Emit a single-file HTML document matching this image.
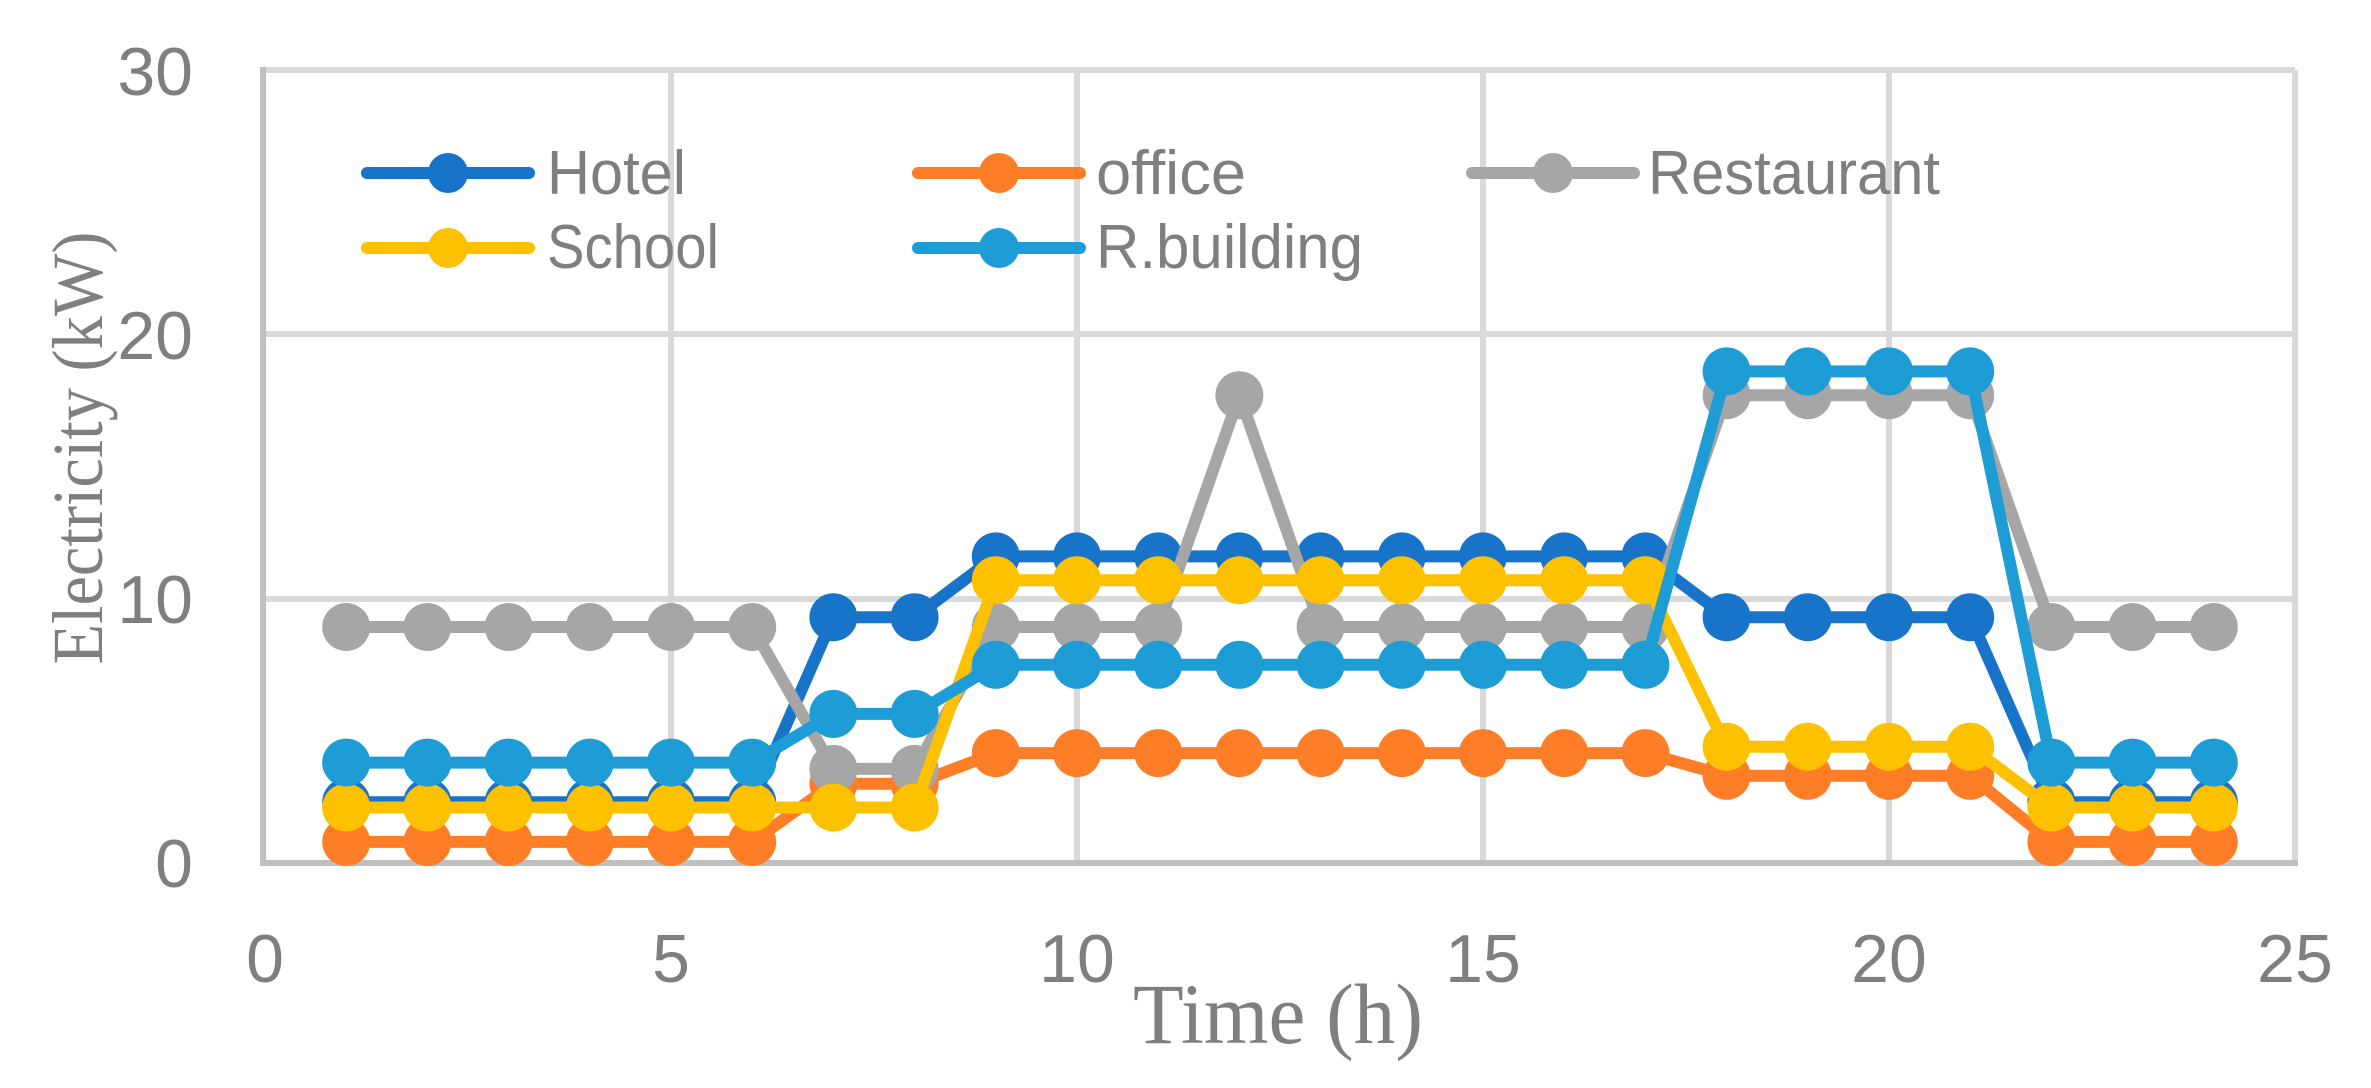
<!DOCTYPE html>
<html><head><meta charset="utf-8"><style>html,body{margin:0;padding:0;background:#fff}svg{display:block}</style></head>
<body>
<svg id="c" width="2371" height="1088" xmlns="http://www.w3.org/2000/svg">
<rect width="2371" height="1088" fill="#fff"/>
<g stroke="#d9d9d9" stroke-width="6">
<line x1="265" y1="70" x2="2295" y2="70"/>
<line x1="265" y1="334" x2="2295" y2="334"/>
<line x1="265" y1="599" x2="2295" y2="599"/>
<line x1="671" y1="70" x2="671" y2="863"/>
<line x1="1077" y1="70" x2="1077" y2="863"/>
<line x1="1483" y1="70" x2="1483" y2="863"/>
<line x1="1889" y1="70" x2="1889" y2="863"/>
<line x1="2295" y1="70" x2="2295" y2="863"/>
</g>
<g stroke="#bfbfbf" stroke-width="6">
<line x1="263" y1="67" x2="263" y2="866"/>
<line x1="260" y1="863" x2="2298" y2="863"/>
</g>
<g font-family="'Liberation Sans', sans-serif" font-size="68" fill="#7f7f7f" text-anchor="end">
<text x="193" y="95">30</text><text x="193" y="359">20</text><text x="193" y="623">10</text><text x="193" y="887">0</text>
</g>
<g font-family="'Liberation Sans', sans-serif" font-size="68" fill="#7f7f7f" text-anchor="middle">
<text x="265" y="982">0</text><text x="671" y="982">5</text><text x="1077" y="982">10</text><text x="1483" y="982">15</text><text x="1889" y="982">20</text><text x="2295" y="982">25</text>
</g>
<text x="1278" y="1043" font-family="'Liberation Serif', serif" font-size="86" fill="#7f7f7f" text-anchor="middle" textLength="290" lengthAdjust="spacingAndGlyphs">Time (h)</text>
<text transform="translate(102,448) rotate(-90)" font-family="'Liberation Serif', serif" font-size="72" fill="#7f7f7f" text-anchor="middle" textLength="433" lengthAdjust="spacingAndGlyphs">Electricity (kW)</text>
<g id="series"></g>
<g font-family="'Liberation Sans', sans-serif" font-size="62" fill="#7f7f7f">
<text x="547" y="194" textLength="139" lengthAdjust="spacingAndGlyphs">Hotel</text><text x="1096" y="194" textLength="150" lengthAdjust="spacingAndGlyphs">office</text><text x="1648" y="194" textLength="292" lengthAdjust="spacingAndGlyphs">Restaurant</text>
<text x="547" y="268" textLength="172" lengthAdjust="spacingAndGlyphs">School</text><text x="1096" y="268" textLength="267" lengthAdjust="spacingAndGlyphs">R.building</text>
</g>
<g stroke-width="12" stroke-linecap="round">
<line x1="367" y1="173" x2="529" y2="173" stroke="#1874c8"/><circle cx="448" cy="173" r="20" fill="#1874c8"/>
<line x1="918" y1="173" x2="1080" y2="173" stroke="#fd7e26"/><circle cx="999" cy="173" r="20" fill="#fd7e26"/>
<line x1="1472" y1="173" x2="1634" y2="173" stroke="#a6a6a6"/><circle cx="1553" cy="173" r="20" fill="#a6a6a6"/>
<line x1="367" y1="248" x2="529" y2="248" stroke="#fdc100"/><circle cx="448" cy="248" r="20" fill="#fdc100"/>
<line x1="918" y1="248" x2="1080" y2="248" stroke="#1e9cd6"/><circle cx="999" cy="248" r="20" fill="#1e9cd6"/>
</g>
</svg>
<script>
(function(){
var S=[
["#1874c8",[2.3,2.3,2.3,2.3,2.3,2.3,9.3,9.3,11.6,11.6,11.6,11.6,11.6,11.6,11.6,11.6,11.6,9.3,9.3,9.3,9.3,2.3,2.3,2.3]],
["#fd7e26",[0.8,0.8,0.8,0.8,0.8,0.8,3.0,3.0,4.16,4.16,4.16,4.16,4.16,4.16,4.16,4.16,4.16,3.3,3.3,3.3,3.3,0.8,0.8,0.8]],
["#a6a6a6",[8.93,8.93,8.93,8.93,8.93,8.93,3.56,3.56,8.93,8.93,8.93,17.7,8.93,8.93,8.93,8.93,8.93,17.7,17.7,17.7,17.7,8.93,8.93,8.93]],
["#fdc100",[2.1,2.1,2.1,2.1,2.1,2.1,2.1,2.1,10.7,10.7,10.7,10.7,10.7,10.7,10.7,10.7,10.7,4.4,4.4,4.4,4.4,2.1,2.1,2.1]],
["#1e9cd6",[3.8,3.8,3.8,3.8,3.8,3.8,5.64,5.64,7.5,7.5,7.5,7.5,7.5,7.5,7.5,7.5,7.5,18.6,18.6,18.6,18.6,3.8,3.8,3.8]]];
var g=document.getElementById("series"),h="";
S.forEach(function(s){var pts=s[1].map(function(v,i){return [265+81.2*(i+1),863-26.43*v];});
h+='<polyline fill="none" stroke="'+s[0]+'" stroke-width="12" stroke-linejoin="round" points="'+pts.map(function(p){return p[0].toFixed(1)+','+p[1].toFixed(1)}).join(' ')+'"/>';
pts.forEach(function(p){h+='<circle cx="'+p[0].toFixed(1)+'" cy="'+p[1].toFixed(1)+'" r="24" fill="'+s[0]+'"/>';});});
g.innerHTML=h;})();
</script>
</body></html>
